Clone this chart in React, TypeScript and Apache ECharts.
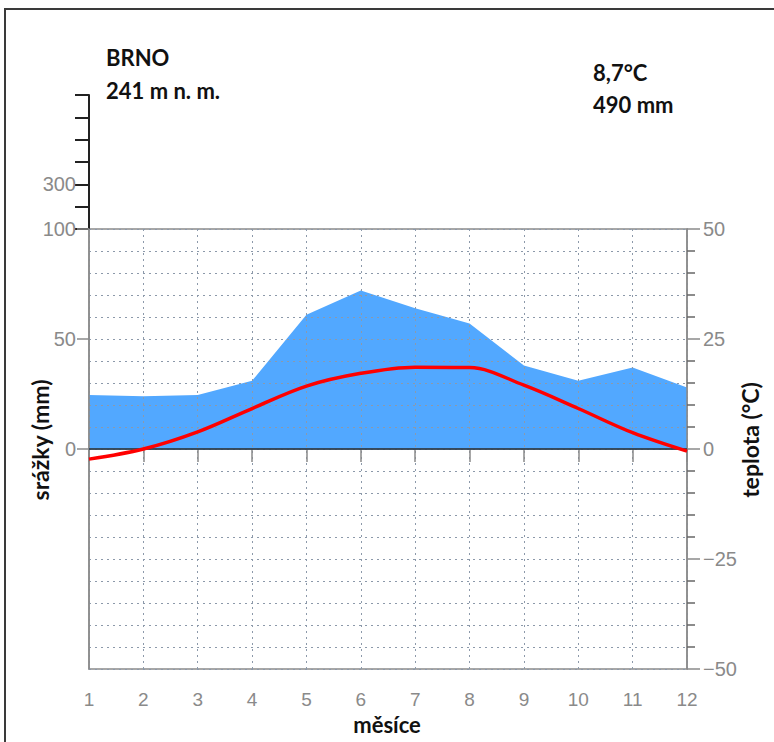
import React, { useEffect, useRef } from "react";
import * as echarts from "echarts";

// ---- data ----
const months = [1, 2, 3, 4, 5, 6, 7, 8, 9, 10, 11, 12];
const precipitation = [24.5, 24, 24.5, 31, 61, 72, 64, 57, 38, 31, 37, 28]; // mm
const temperature = [-2.3, 0, 3.9, 9.2, 14.3, 17.2, 18.6, 18.5, 14.5, 9.2, 3.7, -0.5]; // °C
const precipTicks = [0, 50, 100];
const upperPrecipLabels = [300];
const stationName = "BRNO";
const stationAltitude = "241 m n. m.";
const meanTemp = "8,7°C";
const totalPrecip = "490 mm";
const xName = "měsíce";
const leftName = "srážky (mm)";
const rightName = "teplota (°C)";

const GRAY = "#8a8a8a";
const DOT = "#8c99aa";
const LABEL_FONT = "Liberation Sans";
const TITLE_FONT = "Lato";

export default function App() {
  const ref = useRef<HTMLDivElement>(null);

  useEffect(() => {
    if (!ref.current) return;
    const chart = echarts.init(ref.current, undefined, { renderer: "svg" });

    const precipData = months.map((m, i) => [m, precipitation[i]]);
    const tempData = months.map((m, i) => [m, temperature[i]]);

    const tickLabel = {
      color: GRAY,
      fontSize: 20,
      fontFamily: LABEL_FONT,
    };

    const option: any = {
      animation: false,
      backgroundColor: "#ffffff",
      grid: [
        {
          left: 89,
          top: 229,
          width: 598,
          height: 440,
          show: true,
          borderColor: GRAY,
          borderWidth: 1.5,
          backgroundColor: "transparent",
        },
        { left: 89, top: 95, width: 598, height: 134, show: false },
      ],
      xAxis: [
        {
          type: "value",
          gridIndex: 0,
          min: 1,
          max: 12,
          interval: 1,
          z: 3,
          axisLine: { show: true, lineStyle: { color: GRAY, width: 1.5 } },
          axisTick: { show: true, length: 13, lineStyle: { color: GRAY, width: 1.5 } },
          axisLabel: { ...tickLabel, fontSize: 19, lineHeight: 19, margin: 21 },
          splitLine: { show: true, lineStyle: { color: DOT, type: [2, 4], width: 1 } },
        },
        {
          type: "value",
          gridIndex: 1,
          min: 1,
          max: 12,
          show: false,
        },
      ],
      yAxis: [
        {
          // precipitation, main part
          type: "value",
          gridIndex: 0,
          position: "left",
          min: -100,
          max: 100,
          interval: 50,
          z: 3,
          axisLine: { show: true, lineStyle: { color: GRAY, width: 1.5 } },
          axisTick: {
            show: true,
            length: 12,
            customValues: precipTicks,
            lineStyle: { color: GRAY, width: 1.5 },
          },
          axisLabel: { ...tickLabel, margin: 13, customValues: precipTicks },
          splitLine: { show: false },
        },
        {
          // temperature
          type: "value",
          gridIndex: 0,
          position: "right",
          min: -50,
          max: 50,
          interval: 25,
          z: 3,
          axisLine: { show: true, lineStyle: { color: GRAY, width: 1.5 } },
          axisTick: { show: true, length: 13, lineStyle: { color: GRAY, width: 1.5 } },
          minorTick: {
            show: true,
            splitNumber: 5,
            length: 8,
            lineStyle: { color: "#666", width: 1.5 },
          },
          axisLabel: {
            ...tickLabel,
            margin: 16,
            formatter: (v: number) => (v < 0 ? "\u2212" + Math.abs(v) : String(v)),
          },
          splitLine: { show: true, lineStyle: { color: DOT, type: [2, 4], width: 1 } },
          minorSplitLine: { show: true, lineStyle: { color: DOT, type: [2, 4], width: 1 } },
        },
        {
          // precipitation, compressed upper part (above 100 mm)
          type: "value",
          gridIndex: 1,
          position: "left",
          min: 100,
          max: 700,
          interval: 100,
          axisLine: { show: true, lineStyle: { color: "#222", width: 2 } },
          axisTick: { show: true, length: 14, lineStyle: { color: "#222", width: 2 } },
          axisLabel: { ...tickLabel, margin: 13, customValues: upperPrecipLabels },
          splitLine: { show: false },
        },
      ],
      series: [
        {
          name: "srážky",
          type: "line",
          xAxisIndex: 0,
          yAxisIndex: 0,
          data: precipData,
          symbol: "none",
          lineStyle: { width: 0 },
          areaStyle: { color: "#52a8ff", opacity: 1 },
          z: 2,
          markLine: {
            silent: true,
            symbol: "none",
            label: { show: false },
            lineStyle: { color: "#1d3247", width: 1.5, type: "solid" },
            data: [{ yAxis: 0 }],
          },
        },
        {
          name: "teplota",
          type: "line",
          xAxisIndex: 0,
          yAxisIndex: 1,
          data: tempData,
          symbol: "none",
          smooth: 0.35,
          lineStyle: { color: "#ff0000", width: 3.5 },
          z: 5,
        },
      ],
      graphic: [
        {
          type: "line",
          shape: { x1: 4, y1: 9, x2: 774, y2: 9 },
          style: { stroke: "#3a3a3a", lineWidth: 2 },
        },
        {
          type: "line",
          shape: { x1: 5, y1: 9, x2: 5, y2: 742 },
          style: { stroke: "#3a3a3a", lineWidth: 2 },
        },
        {
          type: "text",
          x: 106,
          y: 57,
          style: {
            text: stationName,
            fill: "#111",
            font: `bold 22px ${TITLE_FONT}`,
            textVerticalAlign: "middle",
          },
        },
        {
          type: "text",
          x: 106,
          y: 90,
          style: {
            text: stationAltitude,
            fill: "#111",
            font: `bold 22px ${TITLE_FONT}`,
            textVerticalAlign: "middle",
          },
        },
        {
          type: "text",
          x: 593,
          y: 72,
          style: {
            text: meanTemp,
            fill: "#111",
            font: `bold 22px ${TITLE_FONT}`,
            textVerticalAlign: "middle",
          },
        },
        {
          type: "text",
          x: 593,
          y: 104,
          style: {
            text: totalPrecip,
            fill: "#111",
            font: `bold 22px ${TITLE_FONT}`,
            textVerticalAlign: "middle",
          },
        },
        {
          type: "text",
          x: 387,
          y: 724,
          style: {
            text: xName,
            fill: "#111",
            font: `bold 22px ${TITLE_FONT}`,
            lineHeight: 22,
            textAlign: "center",
            textVerticalAlign: "middle",
          },
        },
        {
          type: "text",
          x: 40,
          y: 440,
          rotation: Math.PI / 2,
          style: {
            text: leftName,
            fill: "#111",
            font: `bold 23px ${TITLE_FONT}`,
            textAlign: "center",
            textVerticalAlign: "middle",
          },
        },
        {
          type: "text",
          x: 750,
          y: 440,
          rotation: Math.PI / 2,
          style: {
            text: rightName,
            fill: "#111",
            font: `bold 23px ${TITLE_FONT}`,
            textAlign: "center",
            textVerticalAlign: "middle",
          },
        },
      ],
    };

    chart.setOption(option);
    return () => chart.dispose();
  }, []);

  return (
    <div
      ref={ref}
      style={{ position: "absolute", left: 0, top: 0, width: 774, height: 742, background: "#fff" }}
    />
  );
}
